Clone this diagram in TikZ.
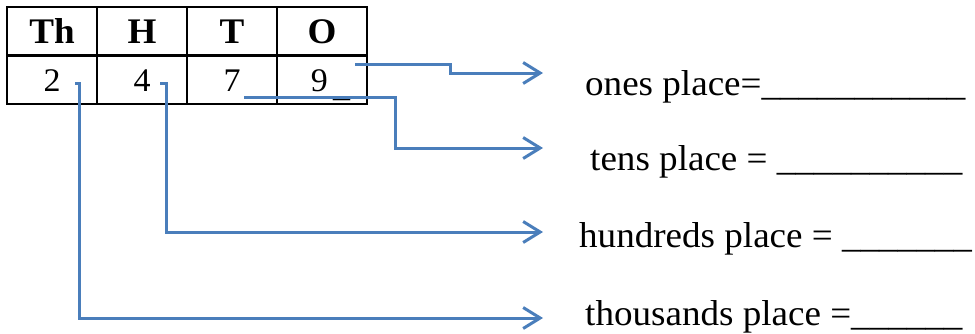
\documentclass[tikz,border=0pt]{standalone}
\usepackage{fontspec}
\setmainfont{Liberation Serif}[FakeStretch=1.03]
\usetikzlibrary{arrows.meta, positioning}
\definecolor{linkblue}{RGB}{74,126,187}

\begin{document}
\begin{tikzpicture}[x=1pt,y=-1pt,
		node distance=0pt,
		hcell/.style={draw,rectangle,line width=2.5pt,outer sep=0pt,inner sep=0pt,minimum width=90pt,minimum height=48.5pt,text height=24pt,text depth=0pt,font=\fontsize{36}{42}\selectfont\bfseries},
		dcell/.style={hcell,text height=23pt,font=\fontsize{33}{39}\selectfont},
		answer/.style={anchor=base west,inner sep=0pt,font=\fontsize{36}{42}\selectfont},
		link/.style={draw=linkblue,line width=3pt,-{Straight Barb[length=17pt,width=21pt]}}]
		\useasboundingbox (0,0) rectangle (975,333);
		\node (th) [hcell] at (52,31.25) {Th};
		\node (hu) [hcell,right=of th] {H};
		\node (te) [hcell,right=of hu] {T};
		\node (on) [hcell,right=of te] {O};
		\node (d2) [dcell,below=of th] {2};
		\node (d4) [dcell,below=of hu] {4};
		\node (d7) [dcell,below=of te] {7};
		\node (d9) [dcell,below=of on] {\hphantom{\_}9\,\raisebox{-5.5pt}{\_}};
		\node (ones) [answer] at (585,95) {ones place=\_\_\_\_\_\_\_\_\_\_\_};
		\node (tens) [answer] at (590,170) {tens place = \_\_\_\_\_\_\_\_\_\_};
		\node (hund) [answer] at (579,247) {hundreds place = \_\_\_\_\_\_\_};
		\node (thou) [answer] at (585,325) {thousands place =\_\_\_\_\_\_};
		\coordinate (s9) at (355,64);
		\coordinate (s7) at (244,97);
		\coordinate (s4) at (160,83);
		\coordinate (s2) at (75,83);
		\coordinate (e9) at (543,73);
		\coordinate (e7) at (543,148);
		\coordinate (e4) at (543,232);
		\coordinate (e2) at (543,318);
		\draw [link] (s9) -- (450,64) |- (e9);
		\draw [link] (s7) -- (395,97) |- (e7);
		\draw [link] (s4) -- ++(6,0) |- (e4);
		\draw [link] (s2) -- ++(4,0) |- (e2);
	\end{tikzpicture}
\end{document}
